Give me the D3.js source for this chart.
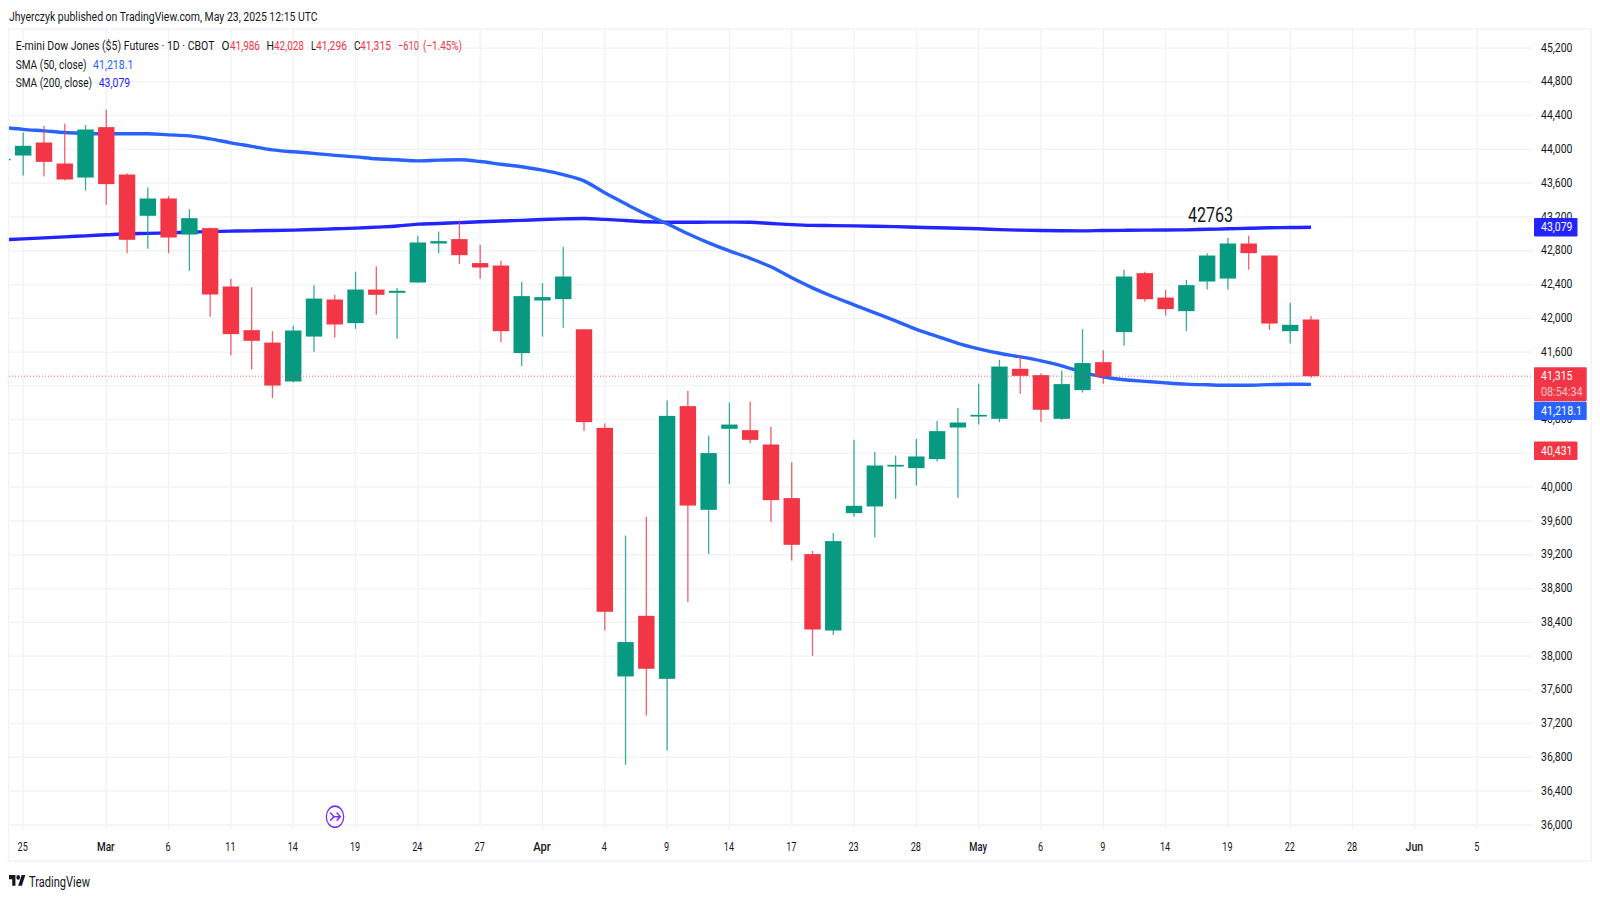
<!DOCTYPE html>
<html>
<head>
<meta charset="utf-8">
<script src="https://cdn.jsdelivr.net/npm/d3@7/dist/d3.min.js"></script>
<style>
html,body{margin:0;padding:0;background:#fff;overflow:hidden}
svg{display:block}
text{font-family:Roboto,"Noto Sans",sans-serif;fill:#131722}
</style>
</head>
<body>
<svg id="chart" width="1600" height="900"></svg>
<script>
// First entry is the bar cut off by the left edge (Feb 24); the second is Feb 25.
const opens = [43877,43928,44082,43833,43667,44264,43703,43214,43419,42992,43068,42377,41860,41713,41252,41784,42223,41943,42341,42302,42424,42886,42938,42654,42625,41588,42211,42227,41870,40703,37759,38477,37731,40960,39732,40692,40676,40506,39871,39208,38303,39693,39772,40245,40226,40333,40707,40837,40810,41402,41327,40810,41150,41481,41837,42535,42246,42085,42436,42471,42886,42744,41848,41986];
const highs = [43900,44200,44279,44303,44291,44469,43719,43549,43447,43293,43075,42468,42369,41848,41911,42393,42278,42551,42613,42358,42977,43028,43158,42870,42681,42432,42417,42847,41872,40754,39428,39650,41027,41142,40612,41003,41015,40715,40297,39247,39457,40561,40416,40375,40573,40783,40937,41224,41509,41560,41351,41382,41872,41623,42574,42551,42337,42456,42772,42950,42977,42744,42184,42028];
const lows = [43870,43691,43679,43632,43513,43344,42772,42823,42772,42562,42018,41564,41398,41055,41240,41603,41773,41876,42041,41757,42420,42772,42642,42468,41718,41434,41784,41888,40668,38303,36713,37297,36882,38640,39211,40040,40522,39587,39132,38004,38249,39653,39404,39863,40020,40304,39875,40742,40771,41106,40771,40800,41121,41224,41678,42199,42033,41848,42341,42341,42574,41864,41702,41296];
const closes = [43889,44043,43853,43644,44236,43589,42930,43419,42957,43186,42282,41813,41734,41204,41856,42234,41927,42341,42278,42326,42898,42914,42748,42602,41848,42263,42251,42495,40771,38525,38166,37850,40845,39783,40404,40742,40561,39847,39318,38315,39362,39780,40257,40265,40364,40664,40766,40857,41429,41319,40917,41221,41470,41311,42495,42227,42109,42393,42744,42886,42772,41938,41923,41315];
const sma50 = [44262,44238,44220,44200,44191,44185,44185,44185,44173,44161,44125,44078,44037,43995,43972,43954,43930,43912,43889,43877,43865,43873,43877,43857,43824,43795,43755,43702,43628,43486,43356,43231,43119,43001,42894,42799,42710,42610,42480,42361,42255,42160,42065,41970,41870,41787,41704,41639,41586,41544,41497,41438,41361,41307,41272,41254,41236,41221,41213,41207,41207,41215,41219,41218.1];
const sma200 = [42930,42941,42953,42965,42977,42989,43001,43006,43012,43021,43027,43033,43036,43040,43044,43051,43060,43068,43080,43093,43115,43123,43133,43143,43152,43160,43170,43178,43182,43172,43158,43143,43138,43138,43139,43139,43137,43123,43110,43101,43098,43095,43091,43086,43078,43072,43066,43060,43051,43044,43040,43037,43036,43040,43042,43044,43046,43048,43054,43060,43066,43072,43075,43079];
const timeTickBars = [0,4,7,10,13,16,19,22,25,28,31,34,37,40,43,46,49,52,55,58,61,64,67,70];
const timeTickLabels = ["25","Mar","6","11","14","19","24","27","Apr","4","9","14","17","23","28","May","6","9","14","19","22","28","Jun","5"];
const monthLabels = ["Mar","Apr","May","Jun"];
const priceTicks = d3.range(36000,45201,400);
const hiddenPriceLabels = [41200];
const lastPrice = 41315, extraPrice = 40431, sma50Last = 41218.1, sma200Last = 43079;
const annotationText = "42763";
const titleText = "Jhyerczyk published on TradingView.com, May 23, 2025 12:15 UTC";
const legendParts = [
  ["E-mini Dow Jones ($5) Futures · 1D · CBOT",15.7,199,"#131722",45],
  ["O",221.5,8,"#131722",45],["41,986",230,30,"#f23645",45],
  ["H",266.5,7.5,"#131722",45],["42,028",274,30,"#f23645",45],
  ["L",311,5,"#131722",45],["41,296",316,31,"#f23645",45],
  ["C",354,6.5,"#131722",45],["41,315",360,31,"#f23645",45],
  ["−610",398,21,"#f23645",45],["(−1.45%)",423,39,"#f23645",45],
  ["SMA (50, close)",15.7,71,"#131722",63.7],["41,218.1",93,40.5,"#2962ff",63.7],
  ["SMA (200, close)",15.7,76.5,"#131722",82.3],["43,079",98.7,31.5,"#2424ff",82.3]
];

const RED="#f23645", GREEN="#089981", GRID="#f1f2f5", BORDER="#f0f3fa";
const svg = d3.select("#chart");
const pane = {l:9,r:1533,t:29,b:829};
const x = d3.scaleLinear().domain([0,62]).range([23.2,1311]);
const y = d3.scaleLinear().domain([36000,45200]).range([825,48.1]);
const barW = 16.4;

// squeeze a text horizontally to the narrow width it has in the reference
function lab(g,s,xp,w,yp,size,fill,weight){
  const t = g.append("text").text(s).attr("dy","0.36em")
    .attr("font-size",size).style("fill",fill||"#131722")
    .attr("font-weight",weight||400);
  const sx = w/t.node().getComputedTextLength();
  t.attr("transform",`translate(${xp},${yp}) scale(${sx},1)`);
  return t;
}
function squeeze(sel,widthOf){
  sel.each(function(){
    const n=this, sx=widthOf(n.textContent)/n.getComputedTextLength();
    d3.select(n).attr("transform",`scale(${sx},1)`);
  });
}

svg.append("rect").attr("width",1600).attr("height",900).attr("fill","#fff");
svg.append("rect").attr("x",8.5).attr("y",29).attr("width",1582.5).attr("height",832)
  .attr("fill","none").attr("stroke",BORDER).attr("stroke-width",1.6);

svg.append("defs").append("clipPath").attr("id","paneClip").append("rect")
  .attr("x",pane.l).attr("y",pane.t).attr("width",pane.r-pane.l).attr("height",pane.b-pane.t);

// grid
const grid = svg.append("g");
grid.selectAll("line.h").data(priceTicks).join("line").attr("class","h")
  .attr("x1",pane.l).attr("x2",pane.r).attr("y1",d=>y(d)).attr("y2",d=>y(d))
  .attr("stroke",GRID).attr("stroke-width",1.3);
grid.selectAll("line.v").data(timeTickBars).join("line").attr("class","v")
  .attr("x1",d=>x(d)).attr("x2",d=>x(d)).attr("y1",pane.t).attr("y2",pane.b)
  .attr("stroke",GRID).attr("stroke-width",1.3);

const plot = svg.append("g").attr("clip-path","url(#paneClip)");

// moving averages sit under the candles
const line = d3.line().x((d,i)=>x(i-1)).y(d=>y(d)).curve(d3.curveMonotoneX);
plot.append("path").datum(sma200).attr("d",line).attr("fill","none").attr("stroke","#2424ff").attr("stroke-width",3.4);
plot.append("path").datum(sma50).attr("d",line).attr("fill","none").attr("stroke","#2962ff").attr("stroke-width",3.4);

// candles
const bars = opens.map((o,i)=>({i:i-1,o,h:highs[i],l:lows[i],c:closes[i]}));
const col = d=>d.c>=d.o?GREEN:RED;
plot.selectAll("line.wick").data(bars).join("line").attr("class","wick")
  .attr("x1",d=>x(d.i)).attr("x2",d=>x(d.i)).attr("y1",d=>y(d.h)).attr("y2",d=>y(d.l))
  .attr("stroke",col).attr("stroke-width",1.3).attr("stroke-opacity",.8);
plot.selectAll("rect.body").data(bars).join("rect").attr("class","body")
  .attr("x",d=>x(d.i)-barW/2).attr("width",barW)
  .attr("y",d=>y(Math.max(d.o,d.c)))
  .attr("height",d=>Math.max(1.5,Math.abs(y(d.o)-y(d.c))))
  .attr("fill",col);

// last price line
svg.append("line").attr("x1",pane.l).attr("x2",pane.r).attr("y1",y(lastPrice)).attr("y2",y(lastPrice))
  .attr("stroke",RED).attr("stroke-width",1).attr("stroke-dasharray","1 2").attr("stroke-opacity",.75);

// price axis
const priceFmt = d3.format(",");
const yAxis = svg.append("g").attr("transform",`translate(1541,-1.3)`)
  .call(d3.axisRight(y).tickValues(priceTicks)
    .tickFormat(d=>hiddenPriceLabels.includes(d)?"":priceFmt(d)).tickSize(0).tickPadding(0));
yAxis.select(".domain").remove();
yAxis.selectAll("text").attr("font-size",13.5).style("fill","#131722");
squeeze(yAxis.selectAll("text").filter(function(){return this.textContent!=="";}),()=>31.5);

// time axis
const xAxis = svg.append("g").attr("transform",`translate(-1,846)`)
  .call(d3.axisBottom(x).tickValues(timeTickBars).tickFormat((d,i)=>timeTickLabels[i]).tickSize(0).tickPadding(0));
xAxis.select(".domain").remove();
xAxis.selectAll("text").attr("y",0).attr("dy","0.36em").attr("font-size",13).style("fill","#131722")
  .attr("font-weight",function(){return monthLabels.includes(this.textContent)?500:400;});
squeeze(xAxis.selectAll("text"),s=>s.length*(monthLabels.includes(s)?5.9:5.1));

// price tags
const tags = svg.append("g");
function tag(yTop,h,w,fill){tags.append("rect").attr("x",1534).attr("y",yTop).attr("width",w).attr("height",h).attr("fill",fill).attr("rx",1);}
tag(y(sma200Last)-9.2,18.4,43.5,"#2424ff");
lab(tags,priceFmt(sma200Last),1541,31.5,y(sma200Last)-0.5,13,"#fff");
tag(y(lastPrice)-9,34,52.7,RED);
lab(tags,priceFmt(lastPrice),1541,31.5,y(lastPrice)-0.8,12.5,"#fff");
lab(tags,"08:54:34",1541,41.5,391.6,12.5,"#ffc2c7");
tag(401.7,18.3,52.7,"#2962ff");
lab(tags,d3.format(",.1f")(sma50Last),1541,41,410.5,12.5,"#fff");
tag(y(extraPrice)-9.3,18.6,43.5,RED);
lab(tags,priceFmt(extraPrice),1541,31.5,y(extraPrice)-0.5,13,"#fff");

// header and legend
lab(svg,titleText,9,309,16.3,13.5);
legendParts.forEach(p=>lab(svg,p[0],p[1],p[2],p[4],13.5,p[3]));

// annotation
lab(svg,annotationText,1188,45,214.5,20,"#131722");

// playback icon
const ic = svg.append("g").attr("transform","translate(335,816.7) scale(0.82,1)").attr("fill","none").attr("stroke","#7b2ff7").attr("stroke-width",1.6);
ic.append("circle").attr("r",10.6);
ic.append("path").attr("d","M-6,-4 L-1,0 L-6,4 M-3,0 H6 M2,-4 L6.5,0 L2,4");

// logo
const logo = svg.append("g").attr("transform","translate(9,872.6) scale(0.46,0.6)").attr("fill","#131722");
logo.append("path").attr("d","M14 22H7V11H0V4h14v18zM28 22h-8l7.5-18h8L28 22z");
logo.append("circle").attr("cx",20).attr("cy",8).attr("r",4);
lab(svg,"TradingView",29,61,881,15.5);
</script>
</body>
</html>
